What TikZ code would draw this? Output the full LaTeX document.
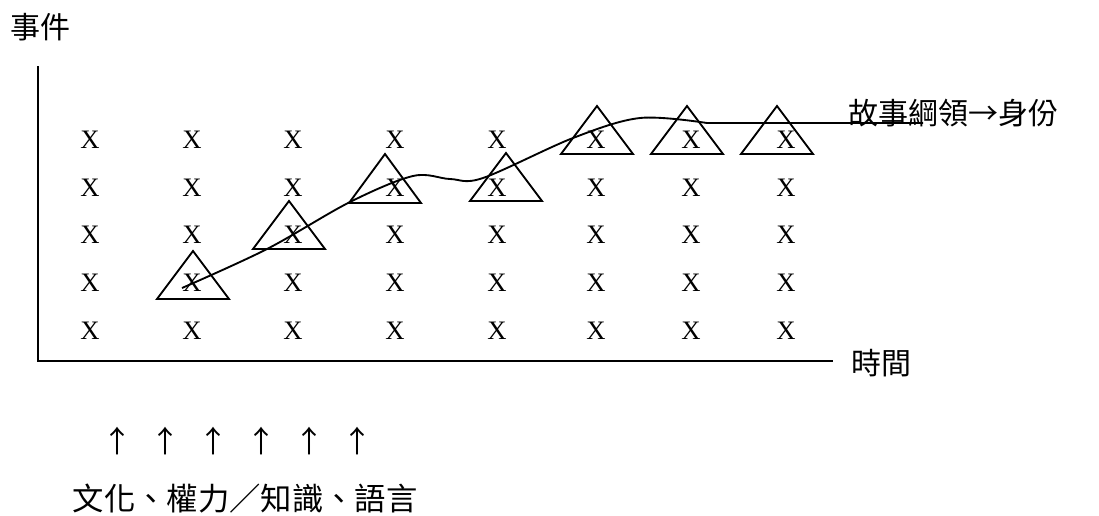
\documentclass[tikz,border=0pt]{standalone}
\usepackage{fontspec}
\setmainfont{Liberation Serif}
\newfontfamily\cjk{Noto Sans CJK TC}
\begin{document}
\begin{tikzpicture}[x=0.75pt,y=-0.75pt,
  line width=1.4pt,
  cjklabel/.style={inner sep=0pt,font=\cjk\fontsize{22.5}{27}\selectfont},
  cjkbig/.style={inner sep=0pt,font=\cjk\fontsize{23.5}{28}\selectfont},
  xmark/.style={inner sep=0pt,font=\fontsize{20}{24}\selectfont},
  tri/.style={line width=1.4pt,line join=miter},
  trend/.style={line width=1.4pt}]
\useasboundingbox (0,0) rectangle (1099,515);
% labels
\node[cjklabel] (ev) at (41,27) {事件};
\node[cjklabel] (tm) at (881,363) {時間};
\node[cjklabel] (story) at (953,113) {故事綱領→身份};
\node[cjkbig] (src) at (245,499) {文化、權力／知識、語言};
% axes
\coordinate (ytop) at (38,66);
\coordinate (orig) at (38,361);
\coordinate (xend) at (833,361);
\draw (ytop) -- (orig) -- (xend);
% grid of X
\foreach \c/\x in {1/90,2/192,3/293,4/395,5/497,6/596,7/691,8/786}{
  \foreach \r/\y in {1/140,2/188,3/235,4/283,5/331}{
    \node[xmark] (x\c-\r) at (\x,\y) {X};
  }
}
% triangles
\foreach \ax/\ay/\by in {193/251/299, 289/201/249, 385/154/203, 506/153/201, 597/106/154, 687/106/154, 777/106/154}{
  \draw[tri] (\ax,\ay) -- (\ax+36,\by) -- (\ax-36,\by) -- cycle;
}
% trend curve
\coordinate (cstart) at (182,288);
\coordinate (cend) at (923,123);
\draw[trend] plot[smooth,tension=0.55] coordinates {(182,288) (267,249) (350,202) (413,176) (450,179) (483,178) (573,138) (640,118) (707,123)} -- (cend);
% arrows from below
\foreach \i/\x in {1/117,2/165,3/213,4/261,5/309,6/357}{
  \node[cjklabel] (up\i) at (\x,441) {↑};
}
\end{tikzpicture}
\end{document}
